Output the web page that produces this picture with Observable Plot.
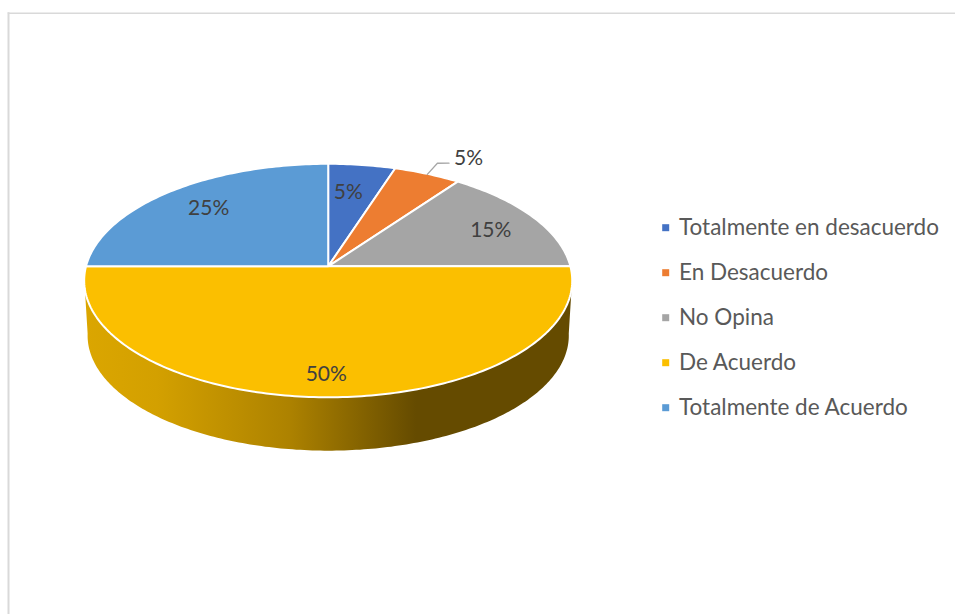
<!DOCTYPE html>
<html>
<head>
<meta charset="utf-8">
<script src="https://cdn.jsdelivr.net/npm/d3@7"></script>
<script src="https://cdn.jsdelivr.net/npm/@observablehq/plot@0.6"></script>
<style>html,body{margin:0;padding:0;background:#fff}svg{display:block}</style>
</head>
<body>
<div id="chart"></div>
<script>
// Data
const categories = ["Totalmente en desacuerdo", "En Desacuerdo", "No Opina", "De Acuerdo", "Totalmente de Acuerdo"];
const shares = [5, 5, 15, 50, 25];
const sliceColors = ["#4472C4", "#ED7D31", "#A5A5A5", "#FBBF00", "#5B9BD5"];

// Layout of the tilted disc
const W = 955, H = 614, cx = 327.7, cy = 265.8;
const R = 242.2, A = 115, K = 0.122, depth = 55.2, bottomScale = 0.986;
const labelRadius = [0.70, 1.25, 0.77, 0.84, 0.75];
const labelNudge = [-1.6, 4.6, 2, 0.5, 0.5];
const total = d3.sum(shares);

// Projection of the unit disc into chart units (origin = pie centre)
const project = (turn, r = 1, s = 1, dy = 0) => {
  const a = turn * 2 * Math.PI;
  const u = r * Math.sin(a), v = r * Math.cos(a), d = 1 + K * v;
  return {x: s * R * u / d, y: dy - s * A * v / d};
};

let acc = 0;
const wedges = shares.map((value, i) => {
  const start = acc / total; acc += value;
  return {name: categories[i], value, start, end: acc / total, i};
});

const slicePts = wedges.flatMap((w) => {
  const n = Math.max(2, Math.ceil((w.end - w.start) * 360));
  const pts = [{x: 0, y: 0, name: w.name}];
  for (let j = 0; j <= n; ++j) pts.push({...project(w.start + (w.end - w.start) * j / n), name: w.name});
  pts.push({x: 0, y: 0, name: w.name});
  return pts;
});

// Visible wall: front rim of the top disc, then back along the bottom disc
const rimStart = 0.2667, rimEnd = 0.7333, rimSteps = 200;
const sidePts = [];
for (let j = 0; j <= rimSteps; ++j) sidePts.push(project(rimStart + (rimEnd - rimStart) * j / rimSteps));
for (let j = rimSteps; j >= 0; --j) sidePts.push(project(rimStart + (rimEnd - rimStart) * j / rimSteps, 1, bottomScale, depth));

const labels = wedges.map((w, i) => {
  const mid = (w.start + w.end) / 2 + labelNudge[i] / 360;
  return {...project(mid, labelRadius[i]), text: `${w.value}%`};
});
const leader = [project(0.0753, 0.995), project(0.0742, 1.126), project(0.0808, 1.152)];

const legendRows = categories.map((name, i) => ({name, row: i}));
const legendDotX = 337.5, legendTextX = 350.8, legendTop = -38.6, legendStep = 45;

const gradient = () => {
  const defs = d3.create("svg:defs");
  const g = defs.append("linearGradient").attr("id", "sideFill").attr("x1", 0).attr("x2", 1).attr("y1", 0).attr("y2", 0);
  [[0, "#DBA600"], [0.15, "#D3A000"], [0.42, "#AD8200"], [0.68, "#654B00"], [1, "#654B00"]]
    .forEach(([o, c]) => g.append("stop").attr("offset", o).attr("stop-color", c));
  return defs.node();
};

const plot = Plot.plot({
  width: W, height: H,
  marginLeft: 8, marginTop: 12.75, marginRight: 0, marginBottom: 0,
  x: {domain: [8 - cx, W - cx], axis: null},
  y: {domain: [H - cy, 12.75 - cy], axis: null},
  color: {domain: categories, range: sliceColors},
  style: {background: "#fff", fontFamily: "Lato, sans-serif"},
  marks: [
    gradient,
    Plot.frame({anchor: "left", stroke: "#D9D9D9", strokeWidth: 2}),
    Plot.frame({anchor: "top", stroke: "#D9D9D9", strokeWidth: 1.5}),
    Plot.line(sidePts, {x: "x", y: "y", fill: "url(#sideFill)", stroke: "none"}),
    Plot.line(slicePts, {x: "x", y: "y", z: "name", fill: "name", stroke: "#fff", strokeWidth: 2, strokeLinejoin: "round"}),
    Plot.line(leader, {x: "x", y: "y", stroke: "#A6A6A6", strokeWidth: 1.3}),
    Plot.text(labels, {x: "x", y: "y", text: "text", fill: "#404040", fontSize: 21}),
    Plot.dot(legendRows, {x: () => legendDotX, y: (d) => legendTop + d.row * legendStep, symbol: "square", r: 3.95, fill: (d) => d.name, stroke: "none"}),
    Plot.text(legendRows, {x: () => legendTextX, y: (d) => legendTop + d.row * legendStep, text: "name", textAnchor: "start", fill: "#595959", fontSize: 22.5})
  ]
});
document.getElementById("chart").appendChild(plot);
</script>
</body>
</html>
